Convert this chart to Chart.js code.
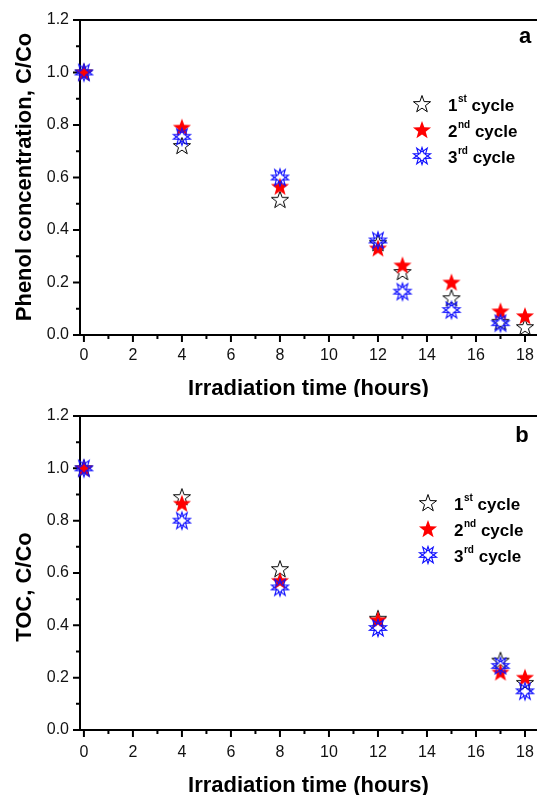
<!DOCTYPE html>
<html>
<head>
<meta charset="utf-8">
<script src="https://cdn.jsdelivr.net/npm/chart.js@4.4.1/dist/chart.umd.min.js"></script>
<style>
    html, body { margin: 0; padding: 0; background: #fff; overflow: hidden; }
    .panel { position: relative; width: 537px; }
    #panel-a { height: 397px; }
    #panel-b { height: 398px; }
</style>
</head>
<body>
<div class="panel" id="panel-a"><canvas id="chart-a"></canvas></div>
<div class="panel" id="panel-b"><canvas id="chart-b"></canvas></div>
<script>
// phenol degradation data (panel a)
const phenolHours = [0, 4, 8, 12, 13, 15, 17, 18];
const phenolCycle1 = [1.0, 0.72, 0.515, 0.35, 0.24, 0.14, 0.05, 0.03];
const phenolCycle2 = [1.0, 0.79, 0.565, 0.33, 0.265, 0.2, 0.09, 0.072];
const phenolCycle3 = [1.0, 0.755, 0.6, 0.36, 0.165, 0.095, 0.045, null];

// TOC data (panel b)
const tocHours = [0, 4, 8, 12, 17, 18];
const tocCycle1 = [1.0, 0.89, 0.615, 0.425, 0.265, 0.18];
const tocCycle2 = [1.0, 0.865, 0.57, 0.42, 0.22, 0.2];
const tocCycle3 = [1.0, 0.80, 0.545, 0.39, 0.245, 0.148];

// legend labels, split in number / superscript / rest
const cycleNumbers = ["1", "2", "3"];
const cycleSuffixes = ["st", "nd", "rd"];
const cycleWord = " cycle";

// axis ticks
const xTicks = [0, 2, 4, 6, 8, 10, 12, 14, 16, 18];
const xMinorTicks = [1, 3, 5, 7, 9, 11, 13, 15, 17];
const yTicks = [0, 0.2, 0.4, 0.6, 0.8, 1.0, 1.2];
const yMinorTicks = [0.1, 0.3, 0.5, 0.7, 0.9, 1.1];

const FONT = "'Liberation Sans', Arial, sans-serif";

// star path helper
function starPath(ctx, cx, cy, R, r, flip) {
    ctx.beginPath();
    for (let i = 0; i < 10; i++) {
        let ang = -Math.PI / 2 + i * Math.PI / 5;
        let rad = i % 2 === 0 ? R : r;
        let y = Math.sin(ang) * rad;
        ctx.lineTo(cx + Math.cos(ang) * rad, cy + (flip ? -y : y));
    }
    ctx.closePath();
}

// building the marker images
function makeMarker(kind) {
    let c = document.createElement("canvas");
    c.width = 22;
    c.height = 22;
    let ctx = c.getContext("2d");
    if (kind === "open") {
        starPath(ctx, 11, 11.5, 9, 3.6, false);
        ctx.strokeStyle = "#000";
        ctx.lineWidth = 1;
        ctx.stroke();
    } else if (kind === "filled") {
        starPath(ctx, 11, 11.5, 9.5, 3.9, false);
        ctx.fillStyle = "#ff0000";
        ctx.fill();
    } else {
        ctx.strokeStyle = "#1010ff";
        ctx.lineWidth = 1.1;
        starPath(ctx, 11, 11.5, 9, 3.6, false);
        ctx.stroke();
        starPath(ctx, 11, 10.5, 9, 3.6, true);
        ctx.stroke();
    }
    return c;
}

const markers = [makeMarker("open"), makeMarker("filled"), makeMarker("cross")];

// draws axes, ticks, titles, legend and panel letter
const decorPlugin = {
    id: "decor",
    beforeDatasetsDraw(chart) {
        let ctx = chart.ctx;
        let area = chart.chartArea;
        let xs = chart.scales.x;
        let ys = chart.scales.y;
        ctx.save();
        ctx.strokeStyle = "#000";
        ctx.lineWidth = 2;
        ctx.beginPath();
        ctx.moveTo(area.left, area.top);
        ctx.lineTo(area.right, area.top);
        ctx.moveTo(area.left, area.top - 1);
        ctx.lineTo(area.left, area.bottom);
        ctx.lineTo(area.right, area.bottom);
        ctx.stroke();

        // x ticks
        ctx.beginPath();
        xTicks.forEach(v => {
            let px = xs.getPixelForValue(v);
            ctx.moveTo(px, area.bottom);
            ctx.lineTo(px, area.bottom + 7);
        });
        xMinorTicks.forEach(v => {
            let px = xs.getPixelForValue(v);
            ctx.moveTo(px, area.bottom);
            ctx.lineTo(px, area.bottom + 4);
        });
        // y ticks
        yTicks.forEach(v => {
            let py = ys.getPixelForValue(v);
            ctx.moveTo(area.left, py);
            ctx.lineTo(area.left - 7, py);
        });
        yMinorTicks.forEach(v => {
            let py = ys.getPixelForValue(v);
            ctx.moveTo(area.left, py);
            ctx.lineTo(area.left - 4, py);
        });
        ctx.stroke();
        ctx.restore();
    },
    afterDraw(chart) {
        let ctx = chart.ctx;
        let opts = chart.options.plugins.decor;
        let area = chart.chartArea;
        ctx.save();
        ctx.fillStyle = "#000";

        // x title
        ctx.font = "bold 22px " + FONT;
        ctx.textAlign = "center";
        ctx.textBaseline = "middle";
        ctx.fillText(opts.xTitle, (area.left + area.right) / 2, opts.xTitleY);

        // y title
        ctx.save();
        ctx.translate(25, opts.yTitleY);
        ctx.rotate(-Math.PI / 2);
        ctx.fillText(opts.yTitle, 0, 0);
        ctx.restore();

        // panel letter
        ctx.fillText(opts.letter, opts.letterX, opts.letterY);

        // legend with superscripts
        ctx.textAlign = "left";
        ctx.textBaseline = "alphabetic";
        for (let i = 0; i < 3; i++) {
            let rowY = opts.legendY + i * 26;
            ctx.drawImage(markers[i], opts.legendX - 11, rowY - 11);
            let tx = opts.textX;
            ctx.font = "bold 17px " + FONT;
            ctx.fillText(cycleNumbers[i], tx, rowY + 7);
            tx += ctx.measureText(cycleNumbers[i]).width;
            ctx.font = "bold 10px " + FONT;
            ctx.fillText(cycleSuffixes[i], tx + 0.5, rowY - 2);
            tx += ctx.measureText(cycleSuffixes[i]).width + 0.5;
            ctx.font = "bold 17px " + FONT;
            ctx.fillText(cycleWord, tx, rowY + 7);
        }
        ctx.restore();
    },
};

function toPoints(xs, ys) {
    return xs.map((x, i) => ({ x: x, y: ys[i] }));
}

function makeChart(canvasId, hours, series, cfg) {
    let ctx = document.getElementById(canvasId).getContext("2d");
    let datasets = series.map((values, i) => ({
        label: cycleNumbers[i] + cycleSuffixes[i] + cycleWord,
        data: toPoints(hours, values),
        pointStyle: markers[i],
        pointRadius: 10,
        pointHoverRadius: 10,
        clip: false,
        order: 3 - i, // later cycles drawn on top
    }));

    return new Chart(ctx, {
        type: "scatter",
        data: { datasets: datasets },
        options: {
            responsive: true,
            maintainAspectRatio: false,
            animation: false,
            events: [],
            // autoPadding would shrink the plot to make room for the markers
            layout: { autoPadding: false, padding: { top: cfg.top, left: 0, right: 0, bottom: 0 } },
            scales: {
                x: {
                    type: "linear",
                    min: -0.16,
                    max: 18.49,
                    grid: { display: false, drawTicks: false },
                    border: { display: false },
                    afterBuildTicks: (scale) => { scale.ticks = xTicks.map(v => ({ value: v })); },
                    afterFit: (scale) => {
                        scale.height = cfg.bottomSpace;
                        scale.paddingLeft = 0;
                        scale.paddingRight = 0;
                    },
                    ticks: {
                        padding: cfg.xTickPad,
                        color: "#111",
                        font: { family: FONT, size: 16 },
                        maxRotation: 0,
                        autoSkip: false,
                        callback: (v) => String(v),
                    },
                },
                y: {
                    min: 0,
                    max: 1.2,
                    grid: { display: false, drawTicks: false },
                    border: { display: false },
                    afterBuildTicks: (scale) => { scale.ticks = yTicks.map(v => ({ value: v })); },
                    afterFit: (scale) => {
                        scale.width = 80;
                        scale.paddingTop = 0;
                        scale.paddingBottom = 0;
                    },
                    ticks: {
                        padding: 11,
                        color: "#111",
                        font: { family: FONT, size: 16 },
                        autoSkip: false,
                        callback: (v) => Number(v).toFixed(1),
                    },
                },
            },
            plugins: {
                legend: { display: false },
                tooltip: { enabled: false },
                decor: cfg,
            },
        },
        plugins: [decorPlugin],
    });
}

makeChart("chart-a", phenolHours, [phenolCycle1, phenolCycle2, phenolCycle3], {
    top: 20,
    bottomSpace: 62,
    xTickPad: 11,
    xTitle: "Irradiation time (hours)",
    xTitleY: 389,
    yTitle: "Phenol concentration, C/Co",
    yTitleY: 177,
    letter: "a",
    letterX: 525,
    letterY: 37,
    legendX: 422,
    legendY: 104,
    textX: 448,
});

makeChart("chart-b", tocHours, [tocCycle1, tocCycle2, tocCycle3], {
    top: 19,
    bottomSpace: 65,
    xTickPad: 13,
    xTitle: "Irradiation time (hours)",
    xTitleY: 389,
    yTitle: "TOC, C/Co",
    yTitleY: 190,
    letter: "b",
    letterX: 522,
    letterY: 39,
    legendX: 428,
    legendY: 106,
    textX: 454,
});
</script>
</body>
</html>
